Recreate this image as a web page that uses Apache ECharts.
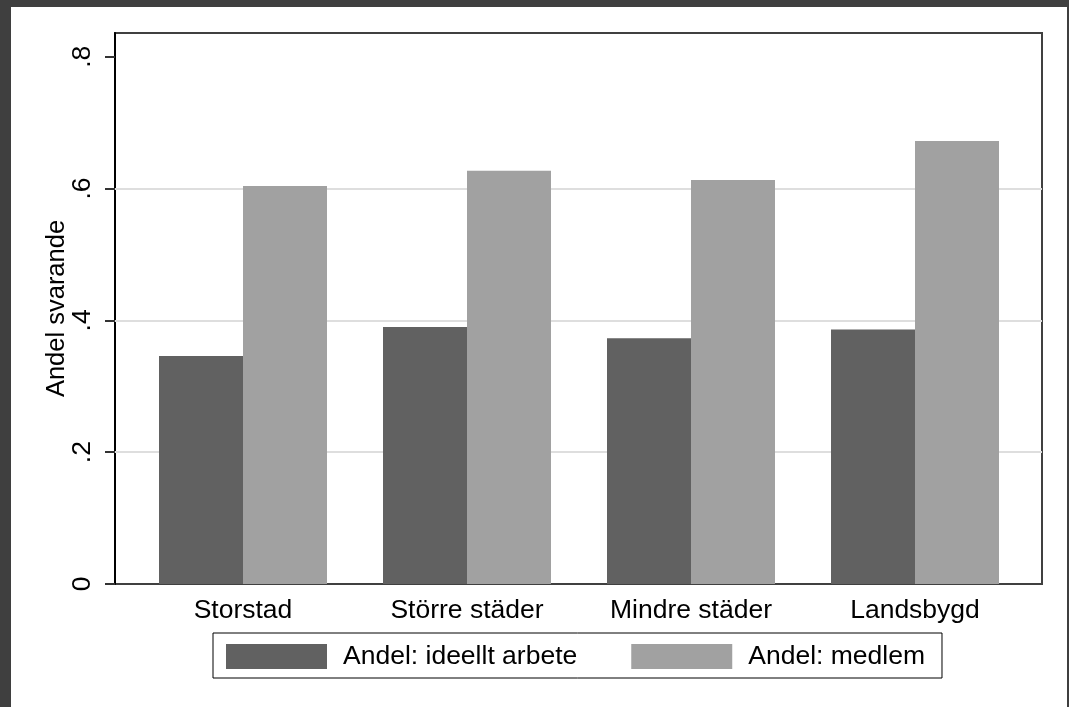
<!DOCTYPE html>
<html>
<head>
<meta charset="utf-8">
<script src="https://cdn.jsdelivr.net/npm/echarts@6/dist/echarts.min.js"></script>
<style>
  html, body { margin: 0; padding: 0; background: #3f3f3f; width: 1069px; height: 707px; overflow: hidden; }
  #main { position: absolute; left: 11px; top: 7px; width: 1056px; height: 700px; background: #ffffff; }
</style>
</head>
<body>
<div id="main"></div>
<script>
const categories = ['Storstad', 'Större städer', 'Mindre städer', 'Landsbygd'];
const ideelltArbete = [0.346, 0.390, 0.373, 0.386];
const medlem = [0.604, 0.627, 0.613, 0.672];
const yTickValues = [0, 0.2, 0.4, 0.6, 0.8];
const yTickLabels = ['0', '.2', '.4', '.6', '.8'];
const gridLineValues = [0.2, 0.4, 0.6];
const seriesNames = ['Andel: ideellt arbete', 'Andel: medlem'];
const yTitle = 'Andel svarande';
const yMax = 0.836;

const FONT = 'Liberation Sans, Arial, sans-serif';
const FS = 26.5;
const chart = echarts.init(document.getElementById('main'), null, { renderer: 'canvas' });

const labelMap = {};
yTickValues.forEach((v, i) => { labelMap[v.toFixed(2)] = yTickLabels[i]; });

chart.setOption({
  animation: false,
  backgroundColor: '#ffffff',
  textStyle: { fontFamily: FONT },
  grid: [
    { left: 104, top: 26, width: 927, height: 551, show: true, borderColor: '#404040', borderWidth: 2, backgroundColor: 'transparent' },
    { left: 120, top: 26, width: 896, height: 551, show: false }
  ],
  xAxis: [
    { gridIndex: 0, type: 'value', min: 0, max: 1, show: false },
    {
      gridIndex: 1, type: 'category', data: categories,
      axisLine: { show: false },
      axisTick: { show: false },
      axisLabel: { color: '#000', fontSize: FS, fontFamily: FONT, margin: 13 }
    }
  ],
  yAxis: [
    {
      gridIndex: 0, type: 'value', min: 0, max: yMax,
      name: yTitle, nameLocation: 'middle', nameRotate: 90, nameGap: 45,
      nameMoveOverlap: false,
      nameTextStyle: { color: '#000', fontSize: 25.5, fontFamily: FONT },
      axisLine: { show: true, lineStyle: { color: '#000', width: 2 } },
      axisTick: { show: true, length: 10, customValues: yTickValues, lineStyle: { color: '#333', width: 2 } },
      axisLabel: {
        show: true, rotate: 90, color: '#000', fontSize: FS, fontFamily: FONT, margin: 19,
        customValues: yTickValues,
        formatter: (v) => labelMap[Number(v).toFixed(2)] ?? ''
      },
      splitLine: { show: false }
    },
    { gridIndex: 1, type: 'value', min: 0, max: yMax, show: false }
  ],
  legend: {
    left: 202, top: 626,
    orient: 'horizontal',
    data: seriesNames,
    itemWidth: 101, itemHeight: 25, itemGap: 54,
    icon: 'rect',
    borderColor: '#000', borderWidth: 1,
    padding: [10, 17, 8, 13],
    textStyle: { color: '#000', fontSize: FS, fontFamily: FONT, padding: [0, 0, 0, 11], lineHeight: 26 }
  },
  series: [
    {
      type: 'line', xAxisIndex: 0, yAxisIndex: 0, data: [], z: 1, silent: true,
      markLine: {
        z: 1, silent: true, symbol: 'none', label: { show: false },
        lineStyle: { color: '#dedede', width: 2, type: 'solid' },
        data: gridLineValues.map(v => ({ yAxis: v }))
      }
    },
    {
      name: seriesNames[0], type: 'bar', xAxisIndex: 1, yAxisIndex: 1, z: 3,
      data: ideelltArbete, barWidth: 84, barGap: '0%',
      itemStyle: { color: '#616161' }
    },
    {
      name: seriesNames[1], type: 'bar', xAxisIndex: 1, yAxisIndex: 1, z: 3,
      data: medlem, barWidth: 84, barGap: '0%',
      itemStyle: { color: '#a1a1a1' }
    }
  ]
});
</script>
</body>
</html>
